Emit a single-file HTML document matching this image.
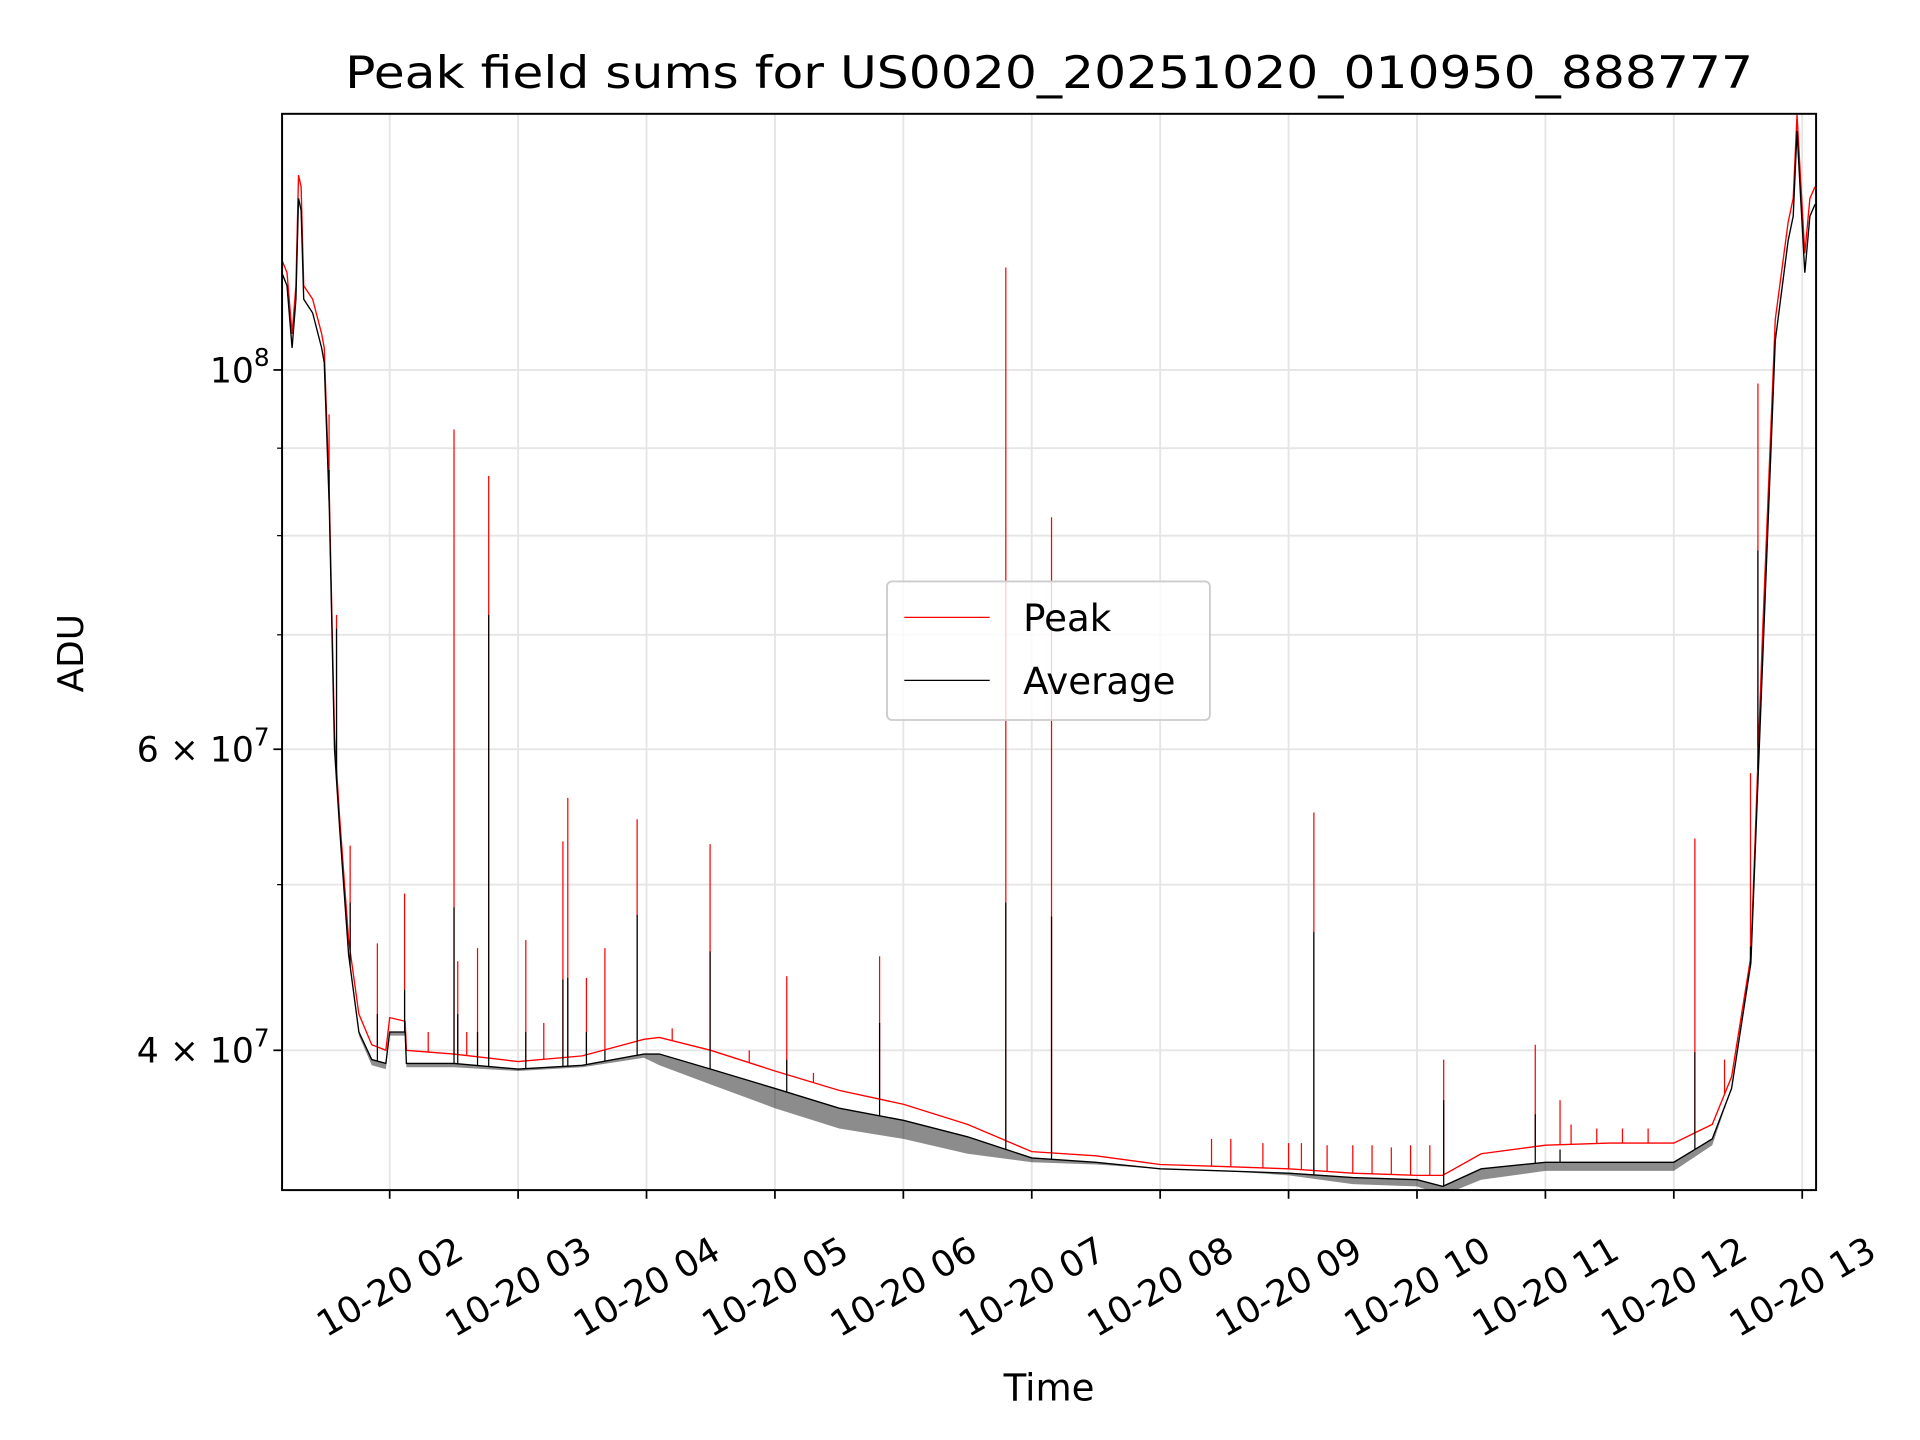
<!DOCTYPE html>
<html><head><meta charset="utf-8"><style>
html,body{margin:0;padding:0;background:#fff;}
svg{display:block;font-family:"DejaVu Sans","Liberation Sans",sans-serif;}
</style></head><body>
<svg id="chart" width="1920" height="1440" viewBox="0 0 1552 1164" xmlns="http://www.w3.org/2000/svg">
<rect x="0" y="0" width="1552" height="1164" fill="#fff"/>
<defs><clipPath id="clip"><rect x="228" y="92" width="1240" height="870"/></clipPath></defs>
<g id="grid"></g>
<g id="series" clip-path="url(#clip)"></g>
<rect x="228" y="92" width="1240" height="870" fill="none" stroke="#000" stroke-width="1.6"/>
<g id="axes"></g>
<text x="848" y="71" font-size="36" text-anchor="middle" textLength="1138" lengthAdjust="spacingAndGlyphs">Peak field sums for US0020_20251020_010950_888777</text>
<text x="0" y="0" font-size="29" text-anchor="middle" transform="translate(67,528) rotate(-90)">ADU</text>
<text x="848" y="1132" font-size="30" text-anchor="middle">Time</text>
<g>
<rect x="717" y="470" width="261" height="112" rx="4" fill="#fff" fill-opacity="0.8" stroke="#ccc" stroke-width="1.5"/>
<line x1="731" y1="499" x2="800" y2="499" stroke="#f00" stroke-width="1"/>
<text x="827" y="510" font-size="30">Peak</text>
<line x1="731" y1="550" x2="800" y2="550" stroke="#000" stroke-width="1"/>
<text x="827" y="561" font-size="30">Average</text>
</g>
</svg>
<script>
// data (times in hours of 2025-10-20, values in units of 1e7 ADU)
const baseTimes = [1.16,1.2,1.24,1.27,1.29,1.31,1.33,1.4,1.47,1.49,1.53,1.57,1.61,1.68,1.76,1.86,1.97,2.0,2.12,2.13,2.5,3.0,3.5,3.98,4.1,4.5,5.0,5.5,6.0,6.5,7.0,7.5,8.0,8.5,9.0,9.5,10.0,10.2,10.5,11.0,11.5,12.0,12.3,12.45,12.6,12.69,12.79,12.89,12.93,12.96,12.99,13.02,13.06,13.1];
const peakValues = [11.6,11.4,10.5,11.2,13.0,12.8,11.2,11.0,10.5,10.3,8.45,6.1,5.48,4.64,4.2,4.03,4.0,4.18,4.16,4.0,3.98,3.94,3.97,4.06,4.07,4.0,3.89,3.79,3.72,3.62,3.49,3.47,3.43,3.42,3.41,3.39,3.38,3.38,3.48,3.52,3.53,3.53,3.62,3.86,4.54,6.97,10.7,12.2,12.6,14.1,12.8,11.7,12.6,12.8];
const avgValues = [11.4,11.2,10.3,11.0,12.6,12.4,11.0,10.8,10.3,10.1,8.3,6.0,5.4,4.55,4.1,3.95,3.93,4.1,4.1,3.93,3.93,3.9,3.92,3.98,3.98,3.9,3.8,3.7,3.64,3.56,3.46,3.44,3.41,3.40,3.39,3.37,3.36,3.33,3.41,3.44,3.44,3.44,3.55,3.8,4.5,6.7,10.4,11.9,12.3,13.8,12.5,11.4,12.3,12.5];
const avgLowValues = [11.4,11.2,10.3,11.0,12.6,12.4,11.0,10.8,10.3,10.1,8.3,6.0,5.4,4.55,4.08,3.92,3.9,4.08,4.08,3.91,3.91,3.89,3.91,3.96,3.92,3.82,3.7,3.6,3.55,3.48,3.44,3.43,3.41,3.40,3.38,3.34,3.33,3.29,3.36,3.40,3.40,3.40,3.52,3.8,4.5,6.7,10.4,11.9,12.3,13.8,12.5,11.4,12.3,12.5];
const spikeTimes = [1.528,1.586,1.692,1.904,2.116,2.501,2.530,2.684,2.771,3.060,3.349,3.387,3.532,3.676,3.927,4.495,5.092,5.815,6.798,7.154,9.197,10.208,10.921,11.114,12.164,12.395,12.597,12.655];
const spikePeak = [9.42,7.19,5.27,4.62,4.94,9.23,4.51,4.59,8.67,4.64,5.30,5.62,4.41,4.59,5.46,5.28,4.42,4.54,11.48,8.20,5.51,3.95,4.03,3.74,5.32,3.95,5.81,9.82];
const spikeAvg = [8.74,7.06,4.88,4.2,4.34,4.85,4.2,4.1,7.19,4.1,4.4,4.41,4.1,4.0,4.80,4.57,3.95,4.15,4.88,4.79,4.69,3.74,3.67,3.5,3.99,3.7,4.6,7.84];
const smallSpikeTimes = [2.3,2.6,3.2,4.2,4.8,5.3,8.4,8.55,8.8,9.0,9.1,9.3,9.5,9.65,9.8,9.95,10.1,11.2,11.4,11.6,11.8];
const smallSpikeValues = [4.1,4.1,4.15,4.12,4.0,3.88,3.55,3.55,3.53,3.53,3.53,3.52,3.52,3.52,3.51,3.52,3.52,3.62,3.6,3.6,3.6];
const xTickHours = [2,3,4,5,6,7,8,9,10,11,12,13];
const xTickLabels = ["10-20 02","10-20 03","10-20 04","10-20 05","10-20 06","10-20 07","10-20 08","10-20 09","10-20 10","10-20 11","10-20 12","10-20 13"];
const yMajorValues = [4,6,10];
const yMajorLabels = [["4","7"],["6","7"],["10","8"]];
const yMinorValues = [5,7,8,9];

const NS="http://www.w3.org/2000/svg";
const X0=228,X1=1468,Y0=92,Y1=962;
function xs(h){return 315+(h-2)*103.8;}
function ys(v){return 849-Math.log10(v/4)*1382;}
function mk(tag,attrs,parent){const e=document.createElementNS(NS,tag);for(const k in attrs)e.setAttribute(k,attrs[k]);parent.appendChild(e);return e;}
function interp(arrT,arrV,t){for(let i=0;i<arrT.length-1;i++){if(t>=arrT[i]&&t<=arrT[i+1]){const f=(t-arrT[i])/(arrT[i+1]-arrT[i]);return arrV[i]+f*(arrV[i+1]-arrV[i]);}}return arrV[arrV.length-1];}
const grid=document.getElementById('grid'),axes=document.getElementById('axes'),series=document.getElementById('series');
xTickHours.forEach((h,i)=>{
 const x=xs(h);
 const g=mk('line',{x1:x,y1:Y0,x2:x,y2:Y1,stroke:'#e5e5e5','stroke-width':1.5},grid);
 
 
 const t=mk('line',{x1:x,y1:Y1,x2:x,y2:Y1+7,stroke:'#000','stroke-width':1.4},axes);
 
 
 const l=mk('text',{x:0,y:0,dy:'0.35em','font-size':29,'text-anchor':'middle',transform:`translate(${x},${1040}) rotate(-30)`},axes);
 l.textContent=xTickLabels[i];
 
 
});
yMajorValues.concat(yMinorValues).forEach(v=>{
 const y=ys(v);
 const g=mk('line',{x1:X0,y1:y,x2:X1,y2:y,stroke:'#e5e5e5','stroke-width':1.5},grid);
 
 
});
yMajorValues.forEach((v,i)=>{
 const y=ys(v);
 const t=mk('line',{x1:X0-7,y1:y,x2:X0,y2:y,stroke:'#000','stroke-width':1.4},axes);
 
 
 const l=mk('text',{x:218,y:y+10,'font-size':28,'text-anchor':'end'},axes);
 const lab=yMajorLabels[i];
 if(lab[0]==="10"){l.innerHTML='10<tspan dy="-13" font-size="20">'+lab[1]+'</tspan>';}
 else{l.innerHTML=lab[0]+' \u00d7 10<tspan dy="-13" font-size="20">'+lab[1]+'</tspan>';}
 
 
});
yMinorValues.forEach(v=>{
 const t=mk('line',{x1:X0-4,y1:ys(v),x2:X0,y2:ys(v),stroke:'#000','stroke-width':1},axes);
 
 
});
let d='';baseTimes.forEach((t,i)=>{d+=(i?'L':'M')+xs(t).toFixed(1)+','+ys(peakValues[i]).toFixed(1);});
const pk=mk('path',{d:d,fill:'none',stroke:'#f00','stroke-width':1.1},series);


smallSpikeTimes.forEach((t,i)=>{
 const s=mk('line',{x1:xs(t),x2:xs(t),y1:ys(interp(baseTimes,peakValues,t)),y2:ys(smallSpikeValues[i]),stroke:'#f00','stroke-width':1},series);
 
 
});
spikeTimes.forEach((t,i)=>{
 const s=mk('line',{x1:xs(t),x2:xs(t),y1:ys(interp(baseTimes,peakValues,t)),y2:ys(spikePeak[i]),stroke:'#f00','stroke-width':1},series);
 
 
});
let b='';baseTimes.forEach((t,i)=>{b+=(i?'L':'M')+xs(t).toFixed(1)+','+ys(avgValues[i]).toFixed(1);});
for(let i=baseTimes.length-1;i>=0;i--){b+='L'+xs(baseTimes[i]).toFixed(1)+','+ys(avgLowValues[i]).toFixed(1);}
const band=mk('path',{d:b+'Z',fill:'#000','fill-opacity':0.45,stroke:'none'},series);


let a='';baseTimes.forEach((t,i)=>{a+=(i?'L':'M')+xs(t).toFixed(1)+','+ys(avgValues[i]).toFixed(1);});
const av=mk('path',{d:a,fill:'none',stroke:'#000','stroke-width':1.1},series);


spikeTimes.forEach((t,i)=>{
 const s=mk('line',{x1:xs(t),x2:xs(t),y1:ys(interp(baseTimes,avgValues,t)),y2:ys(spikeAvg[i]),stroke:'#000','stroke-width':1},series);
 
 
});
</script>
</body></html>
